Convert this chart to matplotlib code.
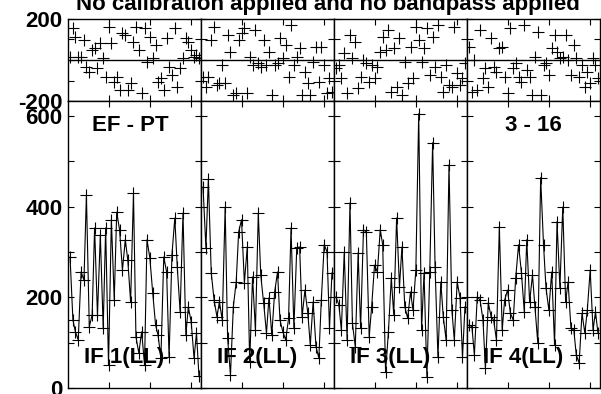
import matplotlib
matplotlib.use("Agg")
import matplotlib.pyplot as plt
from matplotlib.ticker import MultipleLocator

plt.rcParams['font.family'] = ['Liberation Sans', 'DejaVu Sans']
plt.rcParams['font.weight'] = 'bold'
plt.rcParams['axes.unicode_minus'] = False

# sample times (hours), shared by all IFs
times = [0.05, 0.12, 0.18, 0.25, 0.32, 0.39, 0.45, 0.52, 0.59, 0.65,
         0.72, 0.79, 0.86, 0.92, 0.99, 1.06, 1.13, 1.19, 1.26, 1.33,
         1.40, 1.46, 1.53, 1.60, 1.66, 1.73, 1.80, 1.87, 1.93, 2.00,
         2.07, 2.14, 2.20, 2.27, 2.34, 2.41, 2.47, 2.54, 2.61, 2.67,
         2.74, 2.81, 2.88, 2.94, 3.01, 3.08, 3.14, 3.20]

if_labels = ['IF 1(LL)', 'IF 2(LL)', 'IF 3(LL)', 'IF 4(LL)']

phase_if1 = [16, 155, 114, 16, 16, 98, -33, -57, 49, 57, -40, 81, 8, -81, 162, 81,
             -106, -81, -146, 130, 122, -146, -114, 89, 162, 49, -163, 155, -8, 114,
             8, 73, -106, -89, -146, 106, -33, -73, 155, -130, -40, 8, 106, 89, 49,
             16, 24, 10]
phase_if2 = [-81, -130, -81, 98, 162, -122, -114, -24, -114, 122, 40, -171, -163, 98,
             130, 155, -163, 16, -24, 146, -16, -33, 98, -24, 40, -171, -24, -16, 106,
             8, 73, -81, 171, -24, 16, 57, -171, -57, -114, -171, -8, 65, -106, 65,
             -24, -163, -89, -155]
phase_if3 = [-40, -24, -89, 33, -163, 122, 8, 89, -138, -81, 0, -16, -106, -24, -89,
             -33, 40, 114, 49, 146, -155, 57, -130, 106, -171, -8, -114, 65, -89, 162,
             98, -8, 57, 155, -73, 114, -33, 171, -81, -155, -24, -122, -130, 162, -65,
             -122, -89, -16]
phase_if4 = [65, -155, 0, -146, 146, -89, -40, -130, 106, -33, -57, 57, 65, -81, -163,
             155, -40, -16, -81, -106, 171, -49, -81, -171, 16, 138, -171, -24, -16,
             -73, 57, 122, 40, 8, 16, 122, 0, -73, 73, 8, -81, -24, -130, -57, -114, 8,
             -24, -89]

amp_if1 = [289, 150, 124, 106, 256, 238, 426, 135, 161, 353, 161, 338, 132, 353, 51,
           371, 194, 388, 349, 260, 327, 283, 190, 430, 113, 77, 124, 51, 327, 287,
           210, 139, 117, 66, 289, 256, 68, 294, 375, 267, 168, 386, 117, 179, 146,
           66, 121, 26]
amp_if2 = [443, 309, 461, 254, 194, 157, 190, 150, 399, 110, 29, 179, 234, 344, 371,
           232, 311, 57, 245, 128, 386, 249, 188, 121, 199, 117, 212, 256, 150, 124,
           106, 154, 353, 132, 309, 311, 157, 216, 165, 95, 190, 91, 66, 194, 316, 300,
           132, 254]
amp_if3 = [201, 183, 128, 300, 106, 408, 143, 91, 298, 132, 349, 344, 113, 179, 271,
           256, 349, 316, 35, 124, 243, 161, 375, 223, 311, 179, 154, 212, 172, 260,
           605, 128, 254, 24, 256, 541, 267, 68, 234, 157, 106, 492, 172, 106, 234,
           199, 68, 179]
amp_if4 = [139, 135, 73, 201, 194, 150, 44, 188, 157, 150, 106, 356, 128, 194, 216,
           165, 150, 243, 316, 254, 168, 327, 190, 249, 179, 99, 464, 316, 221, 172,
           256, 95, 367, 221, 399, 190, 234, 132, 128, 73, 55, 165, 121, 172, 260, 128,
           168, 121]

phases = [phase_if1, phase_if2, phase_if3, phase_if4]
amps = [amp_if1, amp_if2, amp_if3, amp_if4]

W, H = 601, 394
fig = plt.figure(figsize=(W / 100, H / 100), dpi=100)

x0, colw = 68, 133
top_y0, top_y1 = 19, 101
bot_y0, bot_y1 = 101, 388


def box(px_left, py_top, pw, ph):
    return [px_left / W, 1 - (py_top + ph) / H, pw / W, ph / H]


def style(ax):
    for s in ax.spines.values():
        s.set_linewidth(1.0)
    ax.set_xlim(0, 3.25)
    ax.set_xticks([1, 2, 3])
    ax.tick_params(which='both', direction='in', top=True, right=True,
                   length=4, width=0.8, labelbottom=False, labelleft=False,
                   labelsize=16, pad=4)


for i in range(4):
    left = x0 + i * colw
    ax_p = fig.add_axes(box(left, top_y0, colw, top_y1 - top_y0))
    style(ax_p)
    ax_p.set_ylim(-200, 200)
    ax_p.yaxis.set_major_locator(MultipleLocator(200))
    ax_p.yaxis.set_minor_locator(MultipleLocator(100))
    ax_p.axhline(0, color='black', lw=1.0)
    ax_p.plot(times, phases[i], ls='none', marker='+', ms=8, mew=0.8, color='black')

    ax_a = fig.add_axes(box(left, bot_y0, colw, bot_y1 - bot_y0))
    style(ax_a)
    ax_a.set_ylim(0, 633)
    ax_a.yaxis.set_major_locator(MultipleLocator(200))
    ax_a.yaxis.set_minor_locator(MultipleLocator(100))
    ax_a.plot(times, amps[i], ls='-', lw=0.8, marker='+', ms=8, mew=0.8, color='black')
    ax_a.text(0.42, 0.105, if_labels[i], transform=ax_a.transAxes, ha='center',
              va='center', fontsize=16, fontweight='bold')

    if i == 0:
        ax_p.tick_params(labelleft=True)
        ax_a.tick_params(labelleft=True)
        ax_p.set_yticks([-200, 200])
        ax_a.set_yticks([0, 200, 400, 600])
        ax_a.text(0.47, 0.915, 'EF - PT', transform=ax_a.transAxes, ha='center',
                  va='center', fontsize=16, fontweight='bold')
    if i == 3:
        ax_a.text(0.5, 0.915, '3 - 16', transform=ax_a.transAxes, ha='center',
                  va='center', fontsize=16, fontweight='bold')

fig.text(0.545, 1 - 10 / H, 'No calibration applied and no bandpass applied',
         ha='center', va='baseline', fontsize=16, fontweight='bold')

fig.savefig('out.png', dpi=100)
